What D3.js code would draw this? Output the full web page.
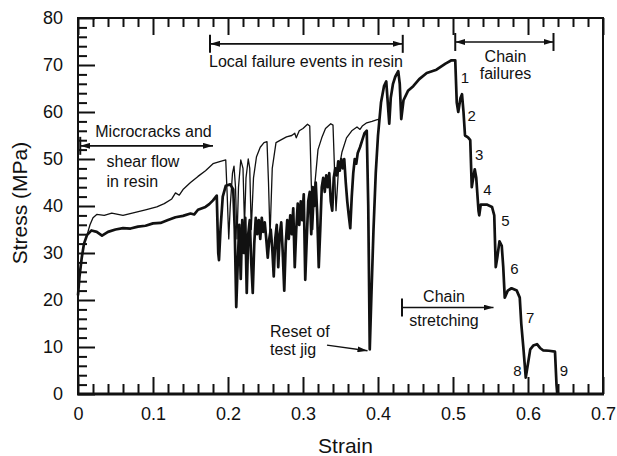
<!DOCTYPE html>
<html>
<head>
<meta charset="utf-8">
<script src="https://cdn.jsdelivr.net/npm/d3@7"></script>
<style>
  body { margin: 0; background: #fff; }
  text { font-family: "Liberation Sans", Arial, sans-serif; fill: #111; }
</style>
</head>
<body>
<div id="container"></div>
<script>
// thick trace: strain / stress (MPa)
const thickStrain = [0, 0.002, 0.005, 0.008, 0.012, 0.018, 0.025, 0.032, 0.04, 0.05, 0.06, 0.07, 0.08, 0.09, 0.1, 0.11, 0.12, 0.13, 0.14, 0.15, 0.155, 0.16, 0.17, 0.175, 0.18, 0.185,
  0.187, 0.188, 0.19, 0.193, 0.197, 0.203, 0.207, 0.209,
  0.211, 0.213, 0.215, 0.217, 0.219, 0.221, 0.223, 0.225, 0.227, 0.229, 0.231, 0.233, 0.235, 0.237, 0.239, 0.241, 0.243, 0.245, 0.247, 0.249,
  0.251, 0.253, 0.255, 0.257, 0.259, 0.261, 0.263, 0.265, 0.267, 0.269, 0.271, 0.273, 0.275, 0.277, 0.279, 0.281, 0.283, 0.285, 0.287, 0.289,
  0.291, 0.293, 0.295, 0.297, 0.299, 0.301, 0.303, 0.305, 0.307, 0.309, 0.311, 0.313, 0.315, 0.317, 0.319, 0.321, 0.323, 0.325, 0.327, 0.329,
  0.331, 0.333, 0.335, 0.337, 0.339, 0.341, 0.343, 0.345, 0.347, 0.349, 0.351, 0.353, 0.355, 0.357, 0.359, 0.361, 0.363, 0.365, 0.367, 0.369,
  0.371, 0.373, 0.376, 0.379, 0.382, 0.385, 0.387, 0.389,
  0.391, 0.394, 0.397, 0.4, 0.404, 0.408, 0.411, 0.413, 0.415, 0.417, 0.42, 0.423, 0.427, 0.429, 0.431, 0.434, 0.44, 0.447, 0.455, 0.465, 0.478, 0.49, 0.498, 0.503,
  0.505, 0.507, 0.51, 0.512, 0.514, 0.516, 0.52, 0.523, 0.525, 0.527, 0.529, 0.531, 0.534, 0.535, 0.537, 0.545, 0.552, 0.555, 0.557, 0.559, 0.562, 0.565, 0.567, 0.569, 0.573, 0.578, 0.585, 0.589, 0.591, 0.594, 0.597, 0.6, 0.603, 0.607, 0.612, 0.616, 0.62, 0.628, 0.636, 0.638, 0.639];
const thickStress = [21, 25, 29, 32, 33.8, 34.8, 34.5, 33.7, 34.5, 35, 35.3, 35.2, 35.6, 35.8, 36.3, 36.4, 37, 37.6, 37.9, 38.4, 38.2, 39.2, 39.8, 40.4, 41.2, 42.2,
  30, 28.5, 35, 42, 44.3, 44.6, 43.5, 35,
  18.5, 28, 36, 24.5, 37, 30, 37.5, 21.5, 34, 37, 28, 21.5, 32, 37.5, 34, 37, 33, 37.5, 34.5, 36.5,
  33, 29, 33, 35, 31, 25, 33, 36, 27, 34, 36.5, 30, 22, 32, 37, 33, 38, 34, 39.5, 27,
  35, 40.5, 36, 41, 37, 42.5, 24.3, 33, 41, 43, 34, 44, 40, 45, 38, 27, 35, 44, 46, 43,
  46.5, 44, 47, 41, 39, 46, 48, 46.5, 49.5, 47.5, 50, 48, 50, 45, 41, 38, 35.3, 42, 47, 50,
  49, 51.3, 52.5, 54, 55.5, 56, 40, 9.5,
  20, 35, 47, 55, 62, 65.5, 66.5, 62, 57.5, 63, 66, 67.5, 68.7, 66, 58.5, 62.5, 64.5, 65.5, 67, 68.3, 69, 70.3, 71, 71,
  62, 60, 63, 63.8, 60, 55, 54.6, 54, 44, 46, 47.8, 46, 39, 38, 40.3, 40.3, 39.8, 38, 27, 29, 32.5, 31.5, 27, 20.5, 22, 22.5, 22, 20.5, 15, 9.5, 3.5, 6.5, 9.5, 10.3, 10.6, 9.8, 9.3, 9.2, 9, 2, 0];

// thin trace
const thinStrain = [0.012, 0.016, 0.02, 0.025, 0.035, 0.045, 0.06, 0.075, 0.09, 0.105, 0.115, 0.125, 0.13, 0.135, 0.14, 0.15, 0.16, 0.17, 0.18, 0.19, 0.197, 0.199, 0.201, 0.203, 0.206, 0.208, 0.21, 0.212, 0.214, 0.217, 0.22, 0.222, 0.224, 0.227, 0.229, 0.231, 0.234, 0.238, 0.243, 0.248, 0.252, 0.254, 0.256, 0.259, 0.264, 0.27, 0.278, 0.285, 0.289, 0.291, 0.295, 0.3, 0.306, 0.309, 0.311, 0.313, 0.316, 0.32, 0.325, 0.33, 0.337, 0.34, 0.342, 0.344, 0.347, 0.352, 0.358, 0.365, 0.372, 0.376, 0.379, 0.385, 0.392, 0.398, 0.402];
const thinStress = [33.8, 36, 37.5, 38.2, 38, 38.5, 38, 38.6, 39.2, 39.8, 40.5, 41.5, 42.8, 42.3, 43.5, 45, 46.3, 47.5, 49, 49.5, 49.8, 42, 33, 40, 47, 48.5, 44, 33, 44, 49.8, 48, 36, 46, 50, 48, 35, 46, 50.5, 52.5, 53.5, 53.7, 45, 33.5, 48, 53.5, 54, 54.7, 55, 55.5, 54.5, 56, 56.5, 57.4, 57, 45, 35, 45, 52, 54.5, 56.5, 57.5, 57.2, 48, 39, 47, 51.5, 54.5, 56, 56.8, 56.3, 57, 57.7, 58, 58.3, 58.5];

const xMajor = [0, 0.1, 0.2, 0.3, 0.4, 0.5, 0.6, 0.7];
const xTickLabels = ["0", "0.1", "0.2", "0.3", "0.4", "0.5", "0.6", "0.7"];
const yMajor = [0, 10, 20, 30, 40, 50, 60, 70, 80];

// failure step labels
const stepLabels = ["1", "2", "3", "4", "5", "6", "7", "8", "9"];
const stepStrain = [0.516, 0.525, 0.535, 0.546, 0.570, 0.582, 0.603, 0.586, 0.648];
const stepStress = [66.2, 58.1, 49.8, 42.4, 35.7, 25.5, 15.1, 3.8, 3.8];

// annotation texts (strain, stress of baseline)
const noteText = ["Local failure events in resin", "Chain", "failures", "Microcracks and", "shear flow", "in resin", "Reset of", "test jig", "Chain", "stretching"];
const noteStrain = [0.304, 0.57, 0.57, 0.023, 0.038, 0.038, 0.256, 0.256, 0.488, 0.488];
const noteStress = [69.5, 70.6, 67, 54.6, 48.2, 44, 12.2, 8.3, 19.5, 14.5];
const noteAnchor = ["middle", "middle", "middle", "start", "start", "start", "start", "start", "middle", "middle"];

// range arrows: from, to, level, bar at start, bar at end, head at start
const arrowFrom = [0.176, 0.503, 0.003, 0.432];
const arrowTo = [0.433, 0.634, 0.18, 0.554];
const arrowLevel = [74.5, 74.9, 52.8, 18.4];
const arrowBarFrom = [true, true, true, true];
const arrowBarTo = [true, true, false, false];
const arrowHeadFrom = [true, true, true, false];

const width = 617, height = 456;
const margin = { top: 18, right: 14, bottom: 62, left: 78 };

const x = d3.scaleLinear().domain([0, 0.7]).range([margin.left, width - margin.right]);
const y = d3.scaleLinear().domain([0, 80]).range([height - margin.bottom, margin.top]);

const svg = d3.select("#container").append("svg")
  .attr("width", width)
  .attr("height", height);

svg.append("defs").append("marker")
  .attr("id", "head")
  .attr("viewBox", "0 0 10 6")
  .attr("refX", 10).attr("refY", 3)
  .attr("markerWidth", 10).attr("markerHeight", 6)
  .attr("markerUnits", "userSpaceOnUse")
  .attr("orient", "auto-start-reverse")
  .append("path").attr("d", "M0,0 L10,3 L0,6 Z").attr("fill", "#111");

// minor ticks
const xMinor = d3.range(0, 0.701, 0.02).filter(v => Math.abs(v * 10 - Math.round(v * 10)) > 1e-6);
const yMinor = d3.range(0, 80.1, 2).filter(v => v % 10 !== 0);

function styleAxis(g) {
  g.select(".domain").remove();
  g.selectAll("line").attr("stroke", "#111").attr("stroke-width", 2);
  g.selectAll("text").attr("font-size", 18).attr("fill", "#111")
    .attr("font-family", "'Liberation Sans', Arial, sans-serif");
}

svg.append("g").attr("transform", `translate(0,${y(0)})`)
  .call(d3.axisBottom(x).tickValues(xMajor).tickSize(-17).tickPadding(13).tickFormat((d, i) => xTickLabels[i]))
  .call(styleAxis);
svg.append("g").attr("transform", `translate(0,${y(0)})`)
  .call(d3.axisBottom(x).tickValues(xMinor).tickSize(-10).tickFormat(""))
  .call(styleAxis);
svg.append("g").attr("transform", `translate(0,${y(80)})`)
  .call(d3.axisTop(x).tickValues(xMajor).tickSize(-17).tickFormat(""))
  .call(styleAxis);
svg.append("g").attr("transform", `translate(0,${y(80)})`)
  .call(d3.axisTop(x).tickValues(xMinor).tickSize(-9).tickFormat(""))
  .call(styleAxis);
svg.append("g").attr("transform", `translate(${x(0)},0)`)
  .call(d3.axisLeft(y).tickValues(yMajor).tickSize(-17).tickPadding(15))
  .call(styleAxis);
svg.append("g").attr("transform", `translate(${x(0)},0)`)
  .call(d3.axisLeft(y).tickValues(yMinor).tickSize(-9).tickFormat(""))
  .call(styleAxis);

// frame
svg.append("rect")
  .attr("x", x(0)).attr("y", y(80))
  .attr("width", x(0.7) - x(0)).attr("height", y(0) - y(80))
  .attr("fill", "none").attr("stroke", "#111").attr("stroke-width", 2);
svg.append("line")
  .attr("x1", x(0) - 1).attr("x2", x(0.7) + 1).attr("y1", y(0)).attr("y2", y(0))
  .attr("stroke", "#111").attr("stroke-width", 3);

// curves
const line = d3.line().x(d => x(d[0])).y(d => y(d[1]));
const thinData = d3.zip(thinStrain, thinStress);
const thickData = d3.zip(thickStrain, thickStress);

svg.append("path").datum(thinData)
  .attr("d", line).attr("fill", "none")
  .attr("stroke", "#111").attr("stroke-width", 1.3).attr("stroke-linejoin", "round");
svg.append("path").datum(thickData)
  .attr("d", line).attr("fill", "none")
  .attr("stroke", "#111").attr("stroke-width", 2.7).attr("stroke-linejoin", "round");

// range arrows
arrowFrom.forEach((f, i) => {
  const g = svg.append("g").attr("stroke", "#111").attr("stroke-width", 1.6);
  const ly = y(arrowLevel[i]);
  g.append("line")
    .attr("x1", x(f)).attr("x2", x(arrowTo[i]))
    .attr("y1", ly).attr("y2", ly)
    .attr("marker-end", "url(#head)")
    .attr("marker-start", arrowHeadFrom[i] ? "url(#head)" : null);
  if (arrowBarFrom[i]) g.append("line").attr("x1", x(f)).attr("x2", x(f))
    .attr("y1", ly - 9).attr("y2", ly + 9).attr("stroke-width", 2);
  if (arrowBarTo[i]) g.append("line").attr("x1", x(arrowTo[i])).attr("x2", x(arrowTo[i]))
    .attr("y1", ly - 9).attr("y2", ly + 9).attr("stroke-width", 2);
});

// reset pointer
svg.append("line")
  .attr("x1", x(0.332)).attr("y1", y(10.4))
  .attr("x2", x(0.386)).attr("y2", y(9.2))
  .attr("stroke", "#111").attr("stroke-width", 1.5)
  .attr("marker-end", "url(#head)");

// notes
svg.selectAll("text.note")
  .data(noteText)
  .enter()
  .append("text")
  .attr("class", "note")
  .attr("x", (d, i) => x(noteStrain[i]))
  .attr("y", (d, i) => y(noteStress[i]))
  .attr("text-anchor", (d, i) => noteAnchor[i])
  .attr("font-size", 16)
  .text(d => d);

svg.selectAll("text.step")
  .data(stepLabels)
  .enter()
  .append("text")
  .attr("class", "step")
  .attr("x", (d, i) => x(stepStrain[i]))
  .attr("y", (d, i) => y(stepStress[i]))
  .attr("text-anchor", "middle")
  .attr("font-size", 15)
  .text(d => d);

// axis titles
svg.append("text")
  .attr("x", (x(0) + x(0.7)) / 2 + 5)
  .attr("y", 453)
  .attr("text-anchor", "middle")
  .attr("font-size", 21)
  .text("Strain");

svg.append("text")
  .attr("transform", `translate(27,${(y(0) + y(80)) / 2 - 3}) rotate(-90)`)
  .attr("text-anchor", "middle")
  .attr("font-size", 21)
  .text("Stress (MPa)");
</script>
</body>
</html>
